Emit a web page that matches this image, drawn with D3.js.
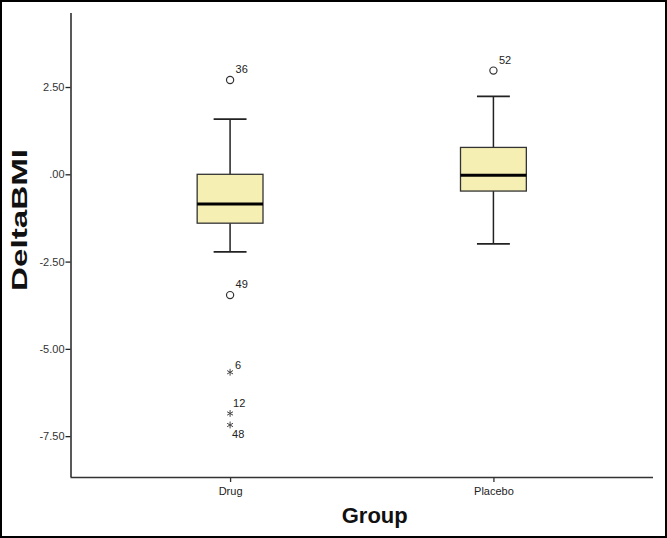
<!DOCTYPE html>
<html>
<head>
<meta charset="utf-8">
<script src="https://cdn.jsdelivr.net/npm/d3@7"></script>
<style>
  body { margin: 0; background: #fff; }
  svg { display: block; }
  text { font-family: "Liberation Sans", Arial, sans-serif; }
</style>
</head>
<body>
<svg id="chart"></svg>
<script>
// data
const groups = ["Drug", "Placebo"];
const whiskerLow = [-2.22, -1.99];
const q1 = [-1.40, -0.48];
const median = [-0.85, -0.03];
const q3 = [0.00, 0.77];
const whiskerHigh = [1.58, 2.23];

// outliers: group, case id, value, kind (circle = outlier, star = extreme)
const outlierGroup = ["Drug", "Drug", "Drug", "Drug", "Drug", "Placebo"];
const outlierId = ["36", "49", "6", "12", "48", "52"];
const outlierValue = [2.70, -3.46, -5.67, -6.85, -7.18, 2.97];
const outlierKind = ["circle", "circle", "star", "star", "star", "circle"];

const yTicks = [2.5, 0, -2.5, -5, -7.5];
const yDomain = [-8.67, 4.62];

const W = 667, H = 538;
const margin = { top: 13, right: 14, bottom: 61, left: 70.5 };
const width = W - margin.left - margin.right;
const height = H - margin.top - margin.bottom;

const svg = d3.select("#chart").attr("width", W).attr("height", H);

// outer frame
svg.append("rect")
    .attr("x", 1).attr("y", 1)
    .attr("width", W - 2).attr("height", H - 2)
    .attr("fill", "#fff")
    .attr("stroke", "#000")
    .attr("stroke-width", 2);

const g = svg.append("g")
    .attr("transform", `translate(${margin.left}, ${margin.top})`);

const x = d3.scalePoint().domain(groups).range([0, width]).padding(0.606);
const y = d3.scaleLinear().domain(yDomain).range([height, 0]);

// SPSS style: ".00", "-2.50" with a plain hyphen
const fmt = d => d === 0 ? ".00" : d.toFixed(2);

const yAxis = g.append("g")
    .call(d3.axisLeft(y).tickValues(yTicks).tickSize(5).tickFormat(fmt));
yAxis.select(".domain").attr("stroke", "#222").attr("stroke-width", 1.5).attr("d", `M0.5,0V${height}`);
yAxis.selectAll(".tick line").attr("stroke", "#222").attr("stroke-width", 1.3);
yAxis.selectAll(".tick text").attr("font-size", 11).attr("fill", "#333").attr("x", -6)
    .attr("font-family", '"Liberation Sans", Arial, sans-serif');

const xAxis = g.append("g")
    .attr("transform", `translate(0, ${height})`)
    .call(d3.axisBottom(x).tickSize(5));
xAxis.select(".domain").attr("stroke", "#333").attr("stroke-width", 1.5).attr("d", `M0,0.5H${width}`);
xAxis.selectAll(".tick line").attr("stroke", "#333").attr("stroke-width", 1.3);
xAxis.selectAll(".tick text").attr("font-size", 11).attr("fill", "#222").attr("dy", "0.9em")
    .attr("font-family", '"Liberation Sans", Arial, sans-serif');

// boxes
const step = x.step();
const boxW = step * 0.25;
const capW = boxW / 2;

groups.forEach((grp, i) => {
    const cx = x(grp);
    g.append("line")
        .attr("x1", cx).attr("x2", cx)
        .attr("y1", y(whiskerHigh[i])).attr("y2", y(q3[i]))
        .attr("stroke", "#222").attr("stroke-width", 1.5);
    g.append("line")
        .attr("x1", cx).attr("x2", cx)
        .attr("y1", y(q1[i])).attr("y2", y(whiskerLow[i]))
        .attr("stroke", "#222").attr("stroke-width", 1.5);
    [whiskerHigh[i], whiskerLow[i]].forEach(v => {
        g.append("line")
            .attr("x1", cx - capW / 2).attr("x2", cx + capW / 2)
            .attr("y1", y(v)).attr("y2", y(v))
            .attr("stroke", "#222").attr("stroke-width", 1.8);
    });
    g.append("rect")
        .attr("x", cx - boxW / 2)
        .attr("y", y(q3[i]))
        .attr("width", boxW)
        .attr("height", y(q1[i]) - y(q3[i]))
        .attr("fill", "#f6efb4")
        .attr("stroke", "#333")
        .attr("stroke-width", 1.3);
    g.append("line")
        .attr("x1", cx - boxW / 2).attr("x2", cx + boxW / 2)
        .attr("y1", y(median[i])).attr("y2", y(median[i]))
        .attr("stroke", "#000").attr("stroke-width", 3);
});

// outliers
const star = d3.symbol().type(d3.symbolAsterisk || d3.symbolCross).size(32);
// label placement next to each point (dx, dy in px)
const labelPos = { "48": [2, 13], "6": [5, -3], "12": [3, -6] };

outlierValue.forEach((v, i) => {
    const cx = x(outlierGroup[i]);
    const cy = y(v);
    if (outlierKind[i] === "circle") {
        g.append("circle")
            .attr("cx", cx).attr("cy", cy).attr("r", 3.6)
            .attr("fill", "none").attr("stroke", "#333").attr("stroke-width", 1.2);
    } else {
        g.append("path")
            .attr("d", star())
            .attr("transform", `translate(${cx}, ${cy})`)
            .attr("fill", "none").attr("stroke", "#444").attr("stroke-width", 1);
    }
    const p = labelPos[outlierId[i]] || [5.5, -7];
    g.append("text")
        .attr("x", cx + p[0]).attr("y", cy + p[1])
        .attr("font-size", 11).attr("fill", "#222")
        .text(outlierId[i]);
});

// axis titles
svg.append("text")
    .attr("transform", "translate(27, 220) rotate(-90)")
    .attr("text-anchor", "middle")
    .attr("font-size", 22).attr("font-weight", "bold").attr("fill", "#111")
    .attr("textLength", 142).attr("lengthAdjust", "spacingAndGlyphs")
    .text("DeltaBMI");

svg.append("text")
    .attr("x", margin.left + width / 2 + 13).attr("y", 523)
    .attr("text-anchor", "middle")
    .attr("font-size", 22).attr("font-weight", "bold").attr("fill", "#111")
    .text("Group");
</script>
</body>
</html>
